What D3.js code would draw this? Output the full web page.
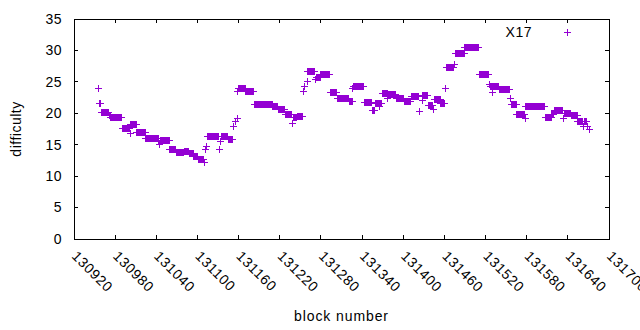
<!DOCTYPE html>
<html>
<head>
<meta charset="utf-8">
<script src="https://cdn.jsdelivr.net/npm/d3@7"></script>
<style>
    body { margin: 0; background: #fff; }
    svg text { font-family: "Liberation Sans", Arial, sans-serif; font-size: 14px; letter-spacing: 0.5px; fill: #000; }
</style>
</head>
<body>
<div id="chart"></div>
<script>
// runs of blocks: first block, last block, difficulty
const runFirst = [130955,130956,130960,130971,130973,130990,131001,131002,131011,131024,
    131043,131044,131045,131059,131068,131080,131087,131094,131101,131109,
    131111,131113,131114,131132,131133,131134,131144,131152,131155,131157,
    131158,131159,131170,131183,131209,131217,131227,131238,131239,131245,
    131254,131256,131259,131260,131272,131273,131279,131293,131303,131321,
    131326,131327,131343,131354,131359,131365,131366,131369,131377,131378,
    131389,131401,131411,131423,131427,131428,131436,131443,131445,131454,
    131461,131462,131474,131475,131489,131510,131525,131526,131530,131531,
    131539,131556,131557,131565,131577,131578,131606,131616,131620,131633,
    131634,131644,131654,131662,131663,131668,131671];
const runLast = [130955,130958,130970,130972,130989,131000,131001,131010,131023,131042,
    131043,131044,131058,131067,131079,131086,131093,131100,131108,131109,
    131111,131113,131130,131132,131133,131143,131151,131152,131155,131157,
    131158,131169,131181,131208,131216,131226,131237,131238,131244,131253,
    131254,131256,131259,131270,131272,131278,131292,131302,131320,131325,
    131326,131342,131353,131358,131364,131365,131368,131376,131377,131388,
    131400,131410,131422,131423,131427,131435,131442,131443,131453,131459,
    131461,131473,131474,131488,131509,131524,131525,131529,131530,131538,
    131554,131556,131564,131576,131577,131605,131615,131619,131632,131633,
    131643,131653,131661,131662,131667,131668,131671];
const runDiff = [24.0,21.6,20.2,19.7,19.4,17.6,16.9,18.25,17.1,16.0,
    15.7,15.1,15.7,14.3,13.85,13.95,13.7,13.2,12.8,12.2,
    14.3,14.85,16.4,14.3,15.6,16.4,15.95,17.9,18.8,19.3,
    23.5,24.0,23.5,21.45,21.1,20.7,19.85,18.5,19.4,19.5,
    23.5,24.3,25.1,26.8,25.4,25.8,26.2,23.35,22.4,21.95,
    24.0,24.4,21.75,20.5,21.65,21.2,21.65,23.2,22.4,23.05,
    22.5,21.95,22.75,20.4,22.1,22.9,21.3,20.7,22.2,21.6,
    24.1,27.4,27.8,29.65,30.5,26.2,24.65,24.3,23.4,24.3,
    23.8,22.4,21.55,19.9,19.2,21.1,19.4,19.9,20.6,19.2,
    20.0,19.7,18.75,18.0,18.75,18.0,17.45];

const xTicks = [130920,130980,131040,131100,131160,131220,131280,131340,131400,131460,131520,131580,131640,131700];
const yTicks = [0,5,10,15,20,25,30,35];
const seriesName = "X17";

document.addEventListener("DOMContentLoaded", draw);

function draw(){
    const width = 640, height = 330;
    const margin = {top: 19, right: 31, bottom: 91, left: 74};
    const w = width - margin.left - margin.right;
    const h = height - margin.top - margin.bottom;
    const color = "#9400d3";
    const cross = "M-3.5,0H3.5M0,-3.5V3.5";

    // one point per block inside each run
    const points = [];
    runFirst.forEach((b0, i) => {
        for (let b = b0; b <= runLast[i]; b++) points.push({block: b, diff: runDiff[i]});
    });

    const svg = d3.select("#chart").append("svg")
        .attr("width", width)
        .attr("height", height);
    const g = svg.append("g")
        .attr("transform", "translate(" + margin.left + "," + margin.top + ")");

    const x = d3.scaleLinear().domain([130920, 131700]).range([0, w]);
    const y = d3.scaleLinear().domain([0, 35]).range([h, 0]);

    // ticks, all pointing inwards, mirrored on the opposite side
    const tickG = g.append("g").attr("stroke", "#000").attr("shape-rendering", "crispEdges");
    yTicks.forEach(t => {
        tickG.append("line").attr("x1", 0).attr("x2", 4).attr("y1", y(t)).attr("y2", y(t));
        tickG.append("line").attr("x1", w).attr("x2", w - 4).attr("y1", y(t)).attr("y2", y(t));
    });
    xTicks.forEach(t => {
        tickG.append("line").attr("x1", x(t)).attr("x2", x(t)).attr("y1", h).attr("y2", h - 4);
        tickG.append("line").attr("x1", x(t)).attr("x2", x(t)).attr("y1", 0).attr("y2", 4);
    });

    g.append("g")
        .selectAll("text")
        .data(yTicks)
        .enter()
        .append("text")
        .attr("x", -12)
        .attr("y", d => y(d))
        .attr("dy", "0.35em")
        .attr("text-anchor", "end")
        .text(d => d);

    g.append("g")
        .selectAll("text")
        .data(xTicks)
        .enter()
        .append("text")
        .attr("transform", d => "translate(" + (x(d) - 3) + "," + (h + 18) + ") rotate(45)")
        .attr("text-anchor", "start")
        .style("letter-spacing", "0.7px")
        .text(d => d);

    g.append("rect")
        .attr("width", w)
        .attr("height", h)
        .attr("fill", "none")
        .attr("stroke", "#000")
        .attr("shape-rendering", "crispEdges");

    g.append("g")
        .attr("class", "points")
        .attr("stroke", color)
        .attr("shape-rendering", "crispEdges")
        .selectAll("path")
        .data(points)
        .enter()
        .append("path")
        .attr("transform", d => "translate(" + Math.round(x(d.block)) + "," + Math.round(y(d.diff)) + ")")
        .attr("d", cross);

    // legend
    g.append("text")
        .attr("x", 458)
        .attr("y", 13)
        .attr("dy", "0.35em")
        .attr("text-anchor", "end")
        .text(seriesName);
    g.append("path")
        .attr("transform", "translate(493,13)")
        .attr("d", cross)
        .attr("stroke", color)
        .attr("shape-rendering", "crispEdges");

    svg.append("text")
        .attr("x", margin.left + w / 2)
        .attr("y", 321)
        .attr("text-anchor", "middle")
        .style("letter-spacing", "0.9px")
        .text("block number");

    svg.append("text")
        .attr("transform", "translate(21," + (margin.top + h / 2) + ") rotate(-90)")
        .attr("text-anchor", "middle")
        .text("difficulty");
}
</script>
</body>
</html>
